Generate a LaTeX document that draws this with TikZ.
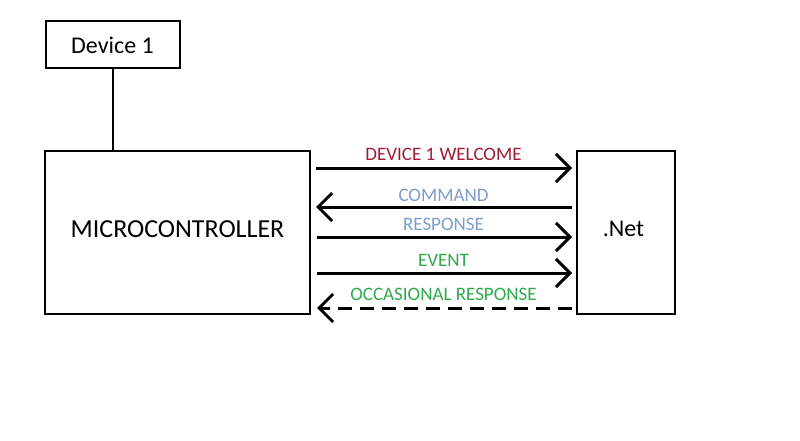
\documentclass[tikz,border=0pt]{standalone}
\usepackage{fontspec}
\setmainfont{Carlito}
\usetikzlibrary{arrows.meta}
\definecolor{welcomered}{HTML}{9E1B32}
\definecolor{cmdblue}{HTML}{7F9CCB}
\definecolor{eventgreen}{HTML}{2EAA4C}
\begin{document}
\begin{tikzpicture}[x=1pt, y=-1pt, font=\fontsize{24}{28}\selectfont]
    \tikzset{box/.style={draw, line width=2pt, inner sep=0pt}}
    \tikzset{msg/.style={line width=3pt, -{Straight Barb[length=14pt, width=28pt, line width=3pt]}}}
    \tikzset{lbl/.style={font=\fontsize{19}{22}\selectfont, inner sep=0pt}}
    \useasboundingbox (0,0) rectangle (800,441);

    % Device box on top
    \node[box, minimum width=134pt, minimum height=47pt] (dev) at (112.5, 45) {Device 1};

    % Microcontroller box
    \node[box, minimum width=265pt, minimum height=163pt, font=\fontsize{26}{30}\selectfont,
        text depth=6pt] (mcu) at (177.5, 232.5) {MICROCONTROLLER};

    % .Net box
    \node[box, minimum width=98pt, minimum height=163pt, text depth=8pt] (net) at (626, 232.5) {\kern-5pt.Net};

    % Connection between device and microcontroller
    \draw[line width=2pt] (dev.south) -- (mcu.north -| dev.south);

    % Messages between microcontroller and .Net
    \draw[msg, shorten <=5pt, shorten >=4pt] (mcu.east |- 0,168) -- (net.west |- 0,168)
        node[lbl, welcomered, midway, above=6pt] {DEVICE 1 WELCOME};
    \draw[msg, shorten <=4pt, shorten >=5pt] (net.west |- 0,207) -- (mcu.east |- 0,207)
        node[lbl, cmdblue, midway, above=4pt] {COMMAND};
    \draw[msg, shorten <=6pt, shorten >=4pt] (mcu.east |- 0,237) -- (net.west |- 0,237)
        node[lbl, cmdblue, midway, above=5pt] {RESPONSE};
    \draw[msg, shorten <=6pt, shorten >=4pt] (mcu.east |- 0,273) -- (net.west |- 0,273)
        node[lbl, eventgreen, midway, above=5pt] {EVENT};
    \draw[msg, dash pattern=on 14pt off 8pt, shorten <=4pt, shorten >=6pt] (net.west |- 0,308) -- (mcu.east |- 0,308)
        node[lbl, eventgreen, midway, above=6pt] {OCCASIONAL RESPONSE};

\end{tikzpicture}
\end{document}
